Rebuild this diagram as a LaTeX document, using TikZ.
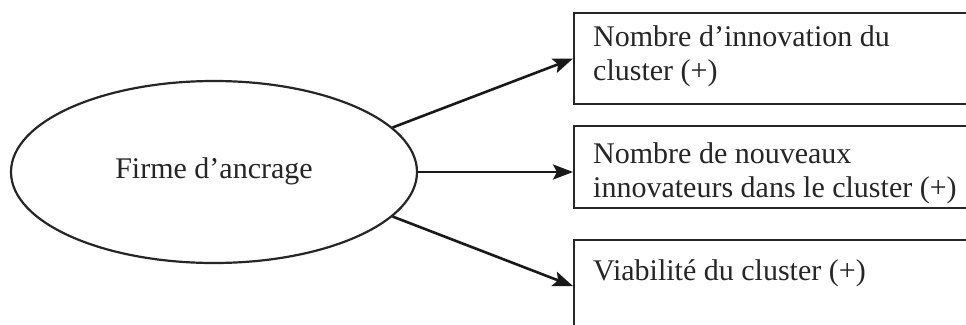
\documentclass[tikz,border=0pt]{standalone}
\usepackage{fontspec}
\setmainfont{Liberation Serif}
\usetikzlibrary{shapes.geometric,arrows.meta}
\begin{document}
\begin{tikzpicture}[x=1pt,y=-1pt,
  outline/.style={draw=black!85,line width=2.2pt},
  firm/.style={outline,ellipse,minimum width=406pt,minimum height=182pt,inner sep=0pt},
  effect/.style={outline,rectangle,minimum width=420pt,inner sep=0pt,anchor=north west},
  label/.style={anchor=base west,inner sep=0pt,align=left,text=black!85,
    font=\fontsize{30}{34}\selectfont},
  link/.style={draw=black!90,line width=2.6pt,-{Stealth[length=20pt,width=15pt,inset=4pt]}}]
\useasboundingbox (0,0) rectangle (966,324);
\clip (0,0) rectangle (966,324);
\fill[white] (0,0) rectangle (966,324);

% anchor firm
\node[firm] (anchor) at (214,172) {};
\node[label,anchor=base] (anchortxt) at (214,178) {Firme d'ancrage};

% effect boxes (running off the right edge)
\node[effect,minimum height=91pt] (b1) at (573,12) {};
\node[effect,minimum height=82pt] (b2) at (573,125) {};
\node[effect,minimum height=92pt] (b3) at (573,239) {};

% base anchor of a multi-line node sits on its last line
\node[label] (t1) at (593,80) {Nombre d'innovation du\\cluster (+)};
\node[label] (t2) at (593,197) {Nombre de nouveaux\\innovateurs dans le cluster (+)};
\node[label] (t3) at (593,280) {Viabilité du cluster (+)};

\draw[link] (anchor.14) -- (b1.west);
\draw[link] (anchor.east) -- (anchor.east -| b2.west);
\draw[link] (anchor.-14) -- (b3.west);
\end{tikzpicture}
\end{document}
